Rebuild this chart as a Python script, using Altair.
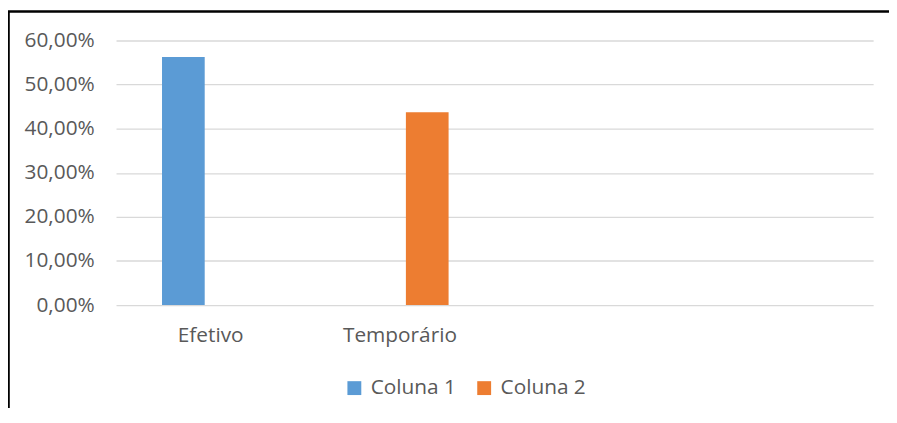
import altair as alt
import pandas as pd

categories = ["Efetivo", "Temporário", " ", "  "]
series = ["Coluna 1", "Coluna 2"]
coluna1 = [0.5625, None, None, None]
coluna2 = [None, 0.4375, None, None]
y_ticks = [0.0, 0.1, 0.2, 0.3, 0.4, 0.5, 0.6]
colors = ["#5B9BD5", "#ED7D31"]

rows = []
for name, vals in zip(series, [coluna1, coluna2]):
    for c, v in zip(categories, vals):
        if v is not None:
            rows.append({"categoria": c, "serie": name, "valor": v})
df = pd.DataFrame(rows)

FONT = "Open Sans"
GRAY = "#595959"
FS = 21

bars = alt.Chart(df).mark_bar().encode(
    x=alt.X("categoria:N", sort=categories,
            scale=alt.Scale(domain=categories, paddingInner=0.486, paddingOuter=0.243),
            axis=alt.Axis(title=None, labelAngle=0, ticks=False, domain=False, grid=False,
                          labelFont=FONT, labelFontSize=FS, labelColor=GRAY,
                          labelPadding=20)),
    xOffset=alt.XOffset("serie:N", scale=alt.Scale(domain=series, paddingInner=0.218)),
    y=alt.Y("valor:Q", scale=alt.Scale(domain=[0, 0.6], nice=False),
            axis=alt.Axis(title=None, values=y_ticks, ticks=False, domain=False,
                          gridColor="#d9d9d9", gridWidth=1.3,
                          labelFont=FONT, labelFontSize=FS, labelColor=GRAY,
                          labelPadding=22,
                          labelExpr="replace(format(datum.value, '.2%'), '.', ',')")),
    color=alt.Color("serie:N", scale=alt.Scale(domain=series, range=colors),
                    legend=alt.Legend(title=None, orient="none", direction="horizontal",
                                      legendX=230, legendY=340,
                                      symbolType="square", symbolSize=196,
                                      symbolStrokeWidth=0, labelOffset=6,
                                      columnPadding=17,
                                      labelFont=FONT, labelFontSize=FS,
                                      labelColor=GRAY)),
)

frame = alt.Chart(pd.DataFrame({"a": [0]})).mark_rect(
    fill=None, stroke="black", strokeWidth=2.6
).encode(
    x=alt.value(-108.5), x2=alt.value(900), y=alt.value(-29.3), y2=alt.value(600)
)

chart = alt.layer(bars, frame).properties(
    width=764, height=267,
    padding={"left": 109, "top": 31, "right": 16, "bottom": 102},
    autosize="none",
).configure_view(strokeWidth=0)

chart.save("out.html", embed_options={"renderer": "svg", "actions": False})
